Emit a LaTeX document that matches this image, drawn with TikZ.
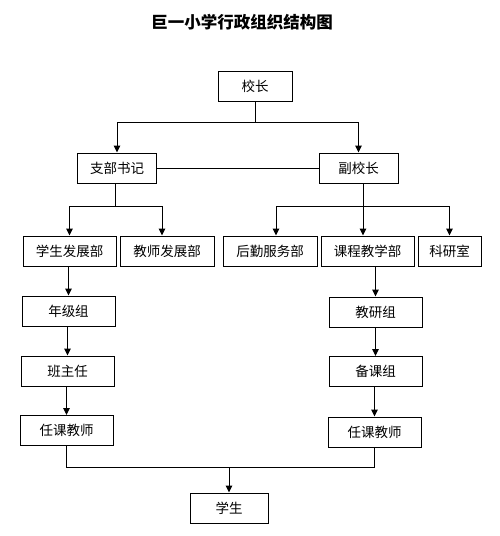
\documentclass[tikz,border=0pt]{standalone}
\usepackage{fontspec}
\setmainfont{Noto Sans CJK SC}
\usetikzlibrary{arrows.meta}

\begin{document}
\begin{tikzpicture}[
	x=1pt, y=-1pt,
	line width=1pt
]
\tikzset{
    orgbox/.style = {rectangle, draw=black, inner sep=0pt, minimum height=30pt,
                     font=\fontsize{13.5}{15}\selectfont},
    arr/.style = {-{Triangle[length=7pt,width=6.5pt]}},
}
\useasboundingbox (0,0) rectangle (500,536);

\node (title) at (242,22) {\fontsize{16.5}{18}\selectfont\bfseries 巨一小学行政组织结构图};

% top levels
\node (xz)  [orgbox, minimum width=74pt] at (255,86)   {校长};
\node (zb)  [orgbox, minimum width=79pt] at (117,168)  {支部书记};
\node (fxz) [orgbox, minimum width=79pt] at (358.5,168) {副校长};

% departments
\node (xsfz) [orgbox, minimum width=93pt] at (69.5,251)  {学生发展部};
\node (jsfz) [orgbox, minimum width=94pt] at (167,251)   {教师发展部};
\node (hqfw) [orgbox, minimum width=94pt] at (270,251)   {后勤服务部};
\node (kcjx) [orgbox, minimum width=93pt] at (367.5,251) {课程教学部};
\node (kys)  [orgbox, minimum width=63pt] at (449.5,251) {科研室};

% left chain
\node (njz)   [orgbox, minimum width=93pt] at (68.5,311)  {年级组};
\node (bzr)   [orgbox, minimum width=93pt] at (67.5,371)  {班主任};
\node (rkjs1) [orgbox, minimum width=93pt] at (66.5,430.5) {任课教师};

% right chain
\node (jyz)   [orgbox, minimum width=93pt] at (375.5,312) {教研组};
\node (bkz)   [orgbox, minimum width=93pt] at (375.5,371.5) {备课组};
\node (rkjs2) [orgbox, minimum width=93pt] at (374.5,432) {任课教师};

\node (xs) [orgbox, minimum width=78pt] at (229,508) {学生};

% connectors
\coordinate (t1) at (255,122);
\coordinate (t2) at (115,206);
\coordinate (t3) at (363,206);
\coordinate (t4) at (228,467);

\draw (xz.south) -- (t1);
\draw[arr] (t1) -| (zb.north);
\draw[arr] (t1) -| (fxz.north);
\draw (zb) -- (fxz);

\draw (t2 |- zb.south) -- (t2);
\draw[arr] (t2) -| (xsfz.north);
\draw[arr] (t2) -| ([xshift=-5pt]jsfz.north);

\draw (t3 |- fxz.south) -- (t3);
\draw[arr] (t3) -| ([xshift=6pt]hqfw.north);
\draw[arr] (t3) -- (t3 |- kcjx.north);
\draw[arr] (t3) -| (kys.north);

\draw[arr] (njz.north |- xsfz.south) -- (njz.north);
\draw[arr] (bzr.north |- njz.south) -- (bzr.north);
\draw[arr] (rkjs1.north |- bzr.south) -- (rkjs1.north);

\draw[arr] (jyz.north |- kcjx.south) -- (jyz.north);
\draw[arr] (bkz.north |- jyz.south) -- (bkz.north);
\draw[arr] (rkjs2.north |- bkz.south) -- (rkjs2.north);

\draw (rkjs1.south) |- (rkjs2.south |- t4) -- (rkjs2.south);
\draw[arr] (xs.north |- t4) -- (xs.north);
\end{tikzpicture}
\end{document}
